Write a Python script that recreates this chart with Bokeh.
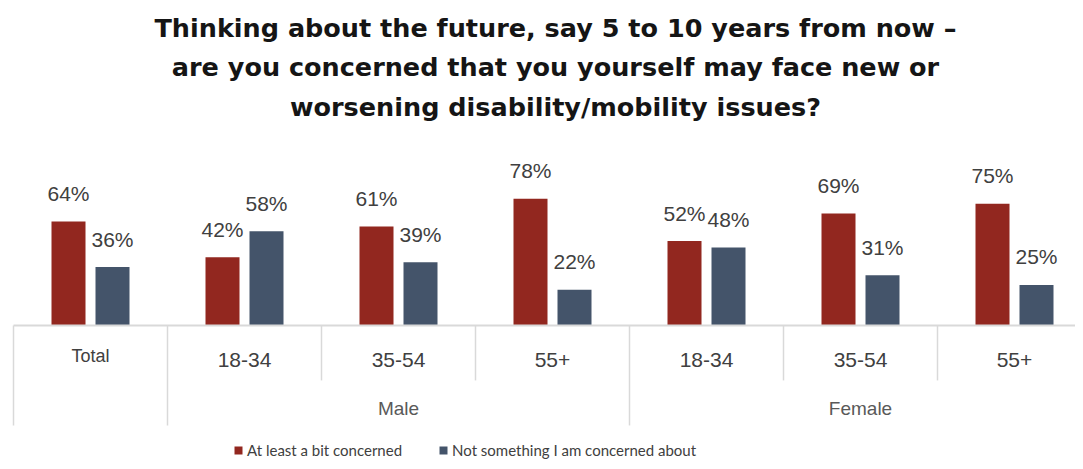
from bokeh.plotting import figure
from bokeh.models import Range1d, ColumnDataSource, LabelSet, Label, Legend, LegendItem
from bokeh.core.properties import value
from bokeh.embed import file_html
from bokeh.resources import INLINE
import numpy as np

# ---- data ----
groups = ["Total", "18-34", "35-54", "55+", "18-34", "35-54", "55+"]
parents = ["Male", "Female"]
parent_spans = [(1, 4), (4, 7)]
concerned = [64, 42, 61, 78, 52, 69, 75]
not_concerned = [36, 58, 39, 22, 48, 31, 25]
series_names = ["At least a bit concerned", "Not something I am concerned about"]
title_lines = [
    "Thinking about the future, say 5 to 10 years from now \u2013",
    "are you concerned that you yourself may face new or",
    "worsening disability/mobility issues?",
]

RED = "#92271F"
BLUE = "#44546A"
TXT = "#404040"

W, H = 1075, 461
GW = 154.0          # px per group
X0 = 13.0           # px of first group boundary
PXV = 1.625         # px per percent
BASE = 325.0        # px from top to baseline

p = figure(width=W, height=H, output_backend="svg", toolbar_location=None,
           x_range=Range1d(-X0 / GW, (W - X0) / GW),
           y_range=Range1d(-(H - BASE) / PXV, BASE / PXV),
           min_border=0)
p.axis.visible = False
p.grid.visible = False
p.outline_line_color = None
p.background_fill_color = "white"

n = len(groups)
centers = np.arange(n) + 0.5
off = 22 / GW
bw = 34 / GW

src_a = ColumnDataSource(dict(x=centers - off, top=concerned,
                              lab=[f"{v}%" for v in concerned]))
src_b = ColumnDataSource(dict(x=centers + off, top=not_concerned,
                              lab=[f"{v}%" for v in not_concerned]))

ra = p.vbar(x="x", top="top", bottom=0, width=bw, source=src_a, fill_color=RED, line_color=None)
rb = p.vbar(x="x", top="top", bottom=0, width=bw, source=src_b, fill_color=BLUE, line_color=None)

for s in (src_a, src_b):
    p.add_layout(LabelSet(x="x", y="top", text="lab", source=s, y_offset=28,
                          text_align="center", text_baseline="middle",
                          text_font=value("Liberation Sans"), text_font_size="21px",
                          text_color=TXT))

# baseline and separators
p.segment(x0=[0], y0=[0], x1=[n + 1], y1=[0], line_color="#d9d9d9", line_width=2)
full = [0, 1, 4, 7]
short = [2, 3, 5, 6]
p.segment(x0=full, y0=[0] * len(full), x1=full, y1=[-61.5] * len(full),
          line_color="#d9d9d9", line_width=1.5)
p.segment(x0=short, y0=[0] * len(short), x1=short, y1=[-33.8] * len(short),
          line_color="#d9d9d9", line_width=1.5)

# category labels
for i, g in enumerate(groups):
    first = (i == 0)
    p.add_layout(Label(x=centers[i], y=-18.5 if first else -21.5, text=g,
                       text_align="center", text_baseline="middle",
                       text_font="Liberation Sans",
                       text_font_size="18px" if first else "21px",
                       text_color=TXT))
for name, (a, b) in zip(parents, parent_spans):
    p.add_layout(Label(x=(a + b) / 2, y=-51.1, text=name,
                       text_align="center", text_baseline="middle",
                       text_font="Liberation Sans", text_font_size="19px",
                       text_color="#595959"))

# title
for k, line in enumerate(title_lines):
    p.add_layout(Label(x=555, y=H - 27 - 39.5 * k, x_units="screen", y_units="screen",
                       text=line, text_align="center", text_baseline="alphabetic",
                       text_font="DejaVu Sans", text_font_style="bold",
                       text_font_size="25.5px", text_color="#151515"))

legend = Legend(items=[LegendItem(label=series_names[0], renderers=[ra]),
                       LegendItem(label=series_names[1], renderers=[rb])],
                orientation="horizontal", location=(233, 2),
                glyph_width=10, glyph_height=10, label_standoff=4, spacing=36,
                padding=0, margin=0, border_line_color=None, background_fill_alpha=0,
                label_text_font="Lato", label_text_font_size="15px", label_text_color=TXT,
                label_height=18)
p.add_layout(legend, "center")

open("out.html", "w").write(file_html(p, INLINE))
